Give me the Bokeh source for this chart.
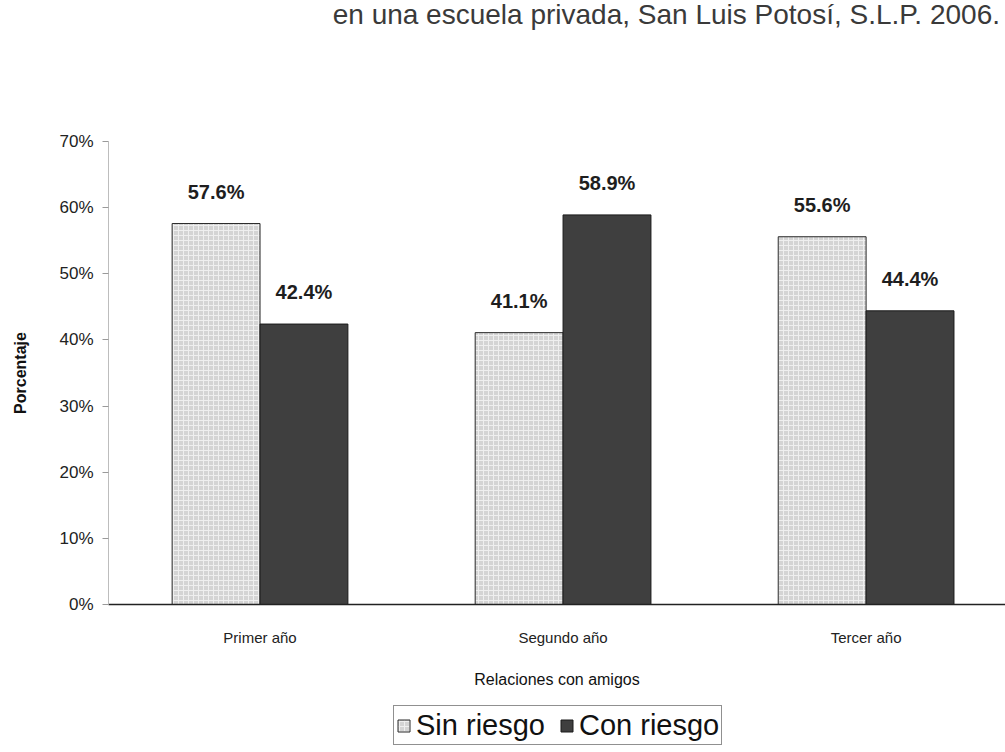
from bokeh.plotting import figure
from bokeh.models import (ColumnDataSource, Range1d, FixedTicker, PrintfTickFormatter,
                          Legend, LegendItem, Div)
from bokeh.layouts import column
from bokeh.core.properties import value
from bokeh.embed import file_html
from bokeh.resources import INLINE

categories = ["Primer año", "Segundo año", "Tercer año"]
sin_riesgo = [57.6, 41.1, 55.6]
con_riesgo = [42.4, 58.9, 44.4]
series_names = ["Sin riesgo", "Con riesgo"]
y_ticks = [0, 10, 20, 30, 40, 50, 60, 70]
title_text = "en una escuela privada, San Luis Potosí, S.L.P. 2006."

centers = [i + 0.5 for i in range(len(categories))]
bw = 0.29

src_sin = ColumnDataSource(dict(
    x=[c - bw / 2 for c in centers], top=sin_riesgo,
    lab=[f"{v:.1f}%" for v in sin_riesgo]))
src_con = ColumnDataSource(dict(
    x=[c + bw / 2 for c in centers], top=con_riesgo,
    lab=[f"{v:.1f}%" for v in con_riesgo]))

FONT = "Liberation Sans"
DIV_H = 32
LEG_H = 52
P_H = 752 - DIV_H - LEG_H

SIN_STYLE = dict(fill_color="#d4d4d4", hatch_pattern="+", hatch_color="#efefef",
                 hatch_scale=5, hatch_weight=1, line_color="#2a2a2a", line_width=1)
CON_STYLE = dict(fill_color="#3f3f3f", line_color="#1a1a1a", line_width=1)

header = Div(text=title_text, width=1005, height=DIV_H, margin=(0, 0, 0, 0),
             styles={"font-family": FONT, "font-size": "28px", "color": "#3a3a3a",
                     "text-align": "right", "width": "1000px", "line-height": "30px",
                     "white-space": "nowrap"})

p = figure(width=1005, height=P_H, output_backend="svg", toolbar_location=None,
           x_range=Range1d(0, 2.96), y_range=Range1d(0, 70),
           min_border_left=108, min_border_right=0, min_border_top=141 - DIV_H,
           min_border_bottom=P_H - (604 - DIV_H), margin=(0, 0, 0, 0))
p.outline_line_color = None
p.grid.visible = False
p.background_fill_color = "white"
p.border_fill_color = "white"

p.vbar(x="x", top="top", width=bw, source=src_sin, **SIN_STYLE)
p.vbar(x="x", top="top", width=bw, source=src_con, **CON_STYLE)

for src in (src_sin, src_con):
    p.text(x="x", y="top", text="lab", source=src, text_align="center",
           text_baseline="bottom", y_offset=-21, text_font=value(FONT),
           text_font_size="20px", text_font_style="bold", text_color="#1e1e1e")

# axes
p.xaxis.ticker = FixedTicker(ticks=centers)
p.xaxis.major_label_overrides = {c: n for c, n in zip(centers, categories)}
p.xaxis.major_tick_line_color = None
p.xaxis.major_tick_out = 0
p.xaxis.major_tick_in = 0
p.xaxis.minor_tick_line_color = None
p.xaxis.axis_line_color = "#222222"
p.xaxis.axis_line_width = 1.5
p.xaxis.major_label_standoff = 24
p.xaxis.major_label_text_font = FONT
p.xaxis.major_label_text_font_size = "15px"
p.xaxis.major_label_text_color = "#222222"
p.xaxis.axis_label = "Relaciones con amigos"
p.xaxis.axis_label_text_font = FONT
p.xaxis.axis_label_text_font_size = "16px"
p.xaxis.axis_label_text_font_style = "normal"
p.xaxis.axis_label_text_color = "#111111"
p.xaxis.axis_label_standoff = 22

p.yaxis.ticker = FixedTicker(ticks=y_ticks)
p.yaxis.formatter = PrintfTickFormatter(format="%d%%")
p.yaxis.minor_tick_line_color = None
p.yaxis.axis_line_color = "#bdbdbd"
p.yaxis.major_tick_line_color = "#9a9a9a"
p.yaxis.major_tick_out = 6
p.yaxis.major_tick_in = 0
p.yaxis.major_label_standoff = 9
p.yaxis.major_label_text_font = FONT
p.yaxis.major_label_text_font_size = "17px"
p.yaxis.major_label_text_color = "#222222"
p.yaxis.axis_label = "Porcentaje"
p.yaxis.axis_label_text_font = FONT
p.yaxis.axis_label_text_font_size = "16px"
p.yaxis.axis_label_text_font_style = "bold"
p.yaxis.axis_label_text_color = "#111111"
p.yaxis.axis_label_standoff = 27

# legend in its own strip below the chart (glyphs share the chart's data, kept out of view)
lf = figure(width=1005, height=LEG_H, output_backend="svg", toolbar_location=None,
            x_range=Range1d(100, 101), y_range=Range1d(100, 101),
            min_border=0, min_border_left=108, min_border_right=0,
            min_border_top=0, min_border_bottom=0, margin=(0, 0, 0, 0))
lf.axis.visible = False
lf.grid.visible = False
lf.outline_line_color = None
lr1 = lf.vbar(x="x", top="top", width=bw, source=src_sin, **SIN_STYLE)
lr2 = lf.vbar(x="x", top="top", width=bw, source=src_con, **CON_STYLE)

legend = Legend(items=[LegendItem(label=series_names[0], renderers=[lr1]),
                       LegendItem(label=series_names[1], renderers=[lr2])],
                orientation="horizontal", location=(285, 7),
                label_text_font=FONT, label_text_font_size="29px",
                label_text_color="#111111", glyph_width=15, glyph_height=15,
                spacing=14, padding=2, margin=0, label_standoff=5,
                label_height=34,
                border_line_color="#222222", border_line_width=1,
                background_fill_color="white", background_fill_alpha=1)
lf.add_layout(legend, "center")

open("out.html", "w").write(file_html(column(header, p, lf, spacing=0), INLINE))
